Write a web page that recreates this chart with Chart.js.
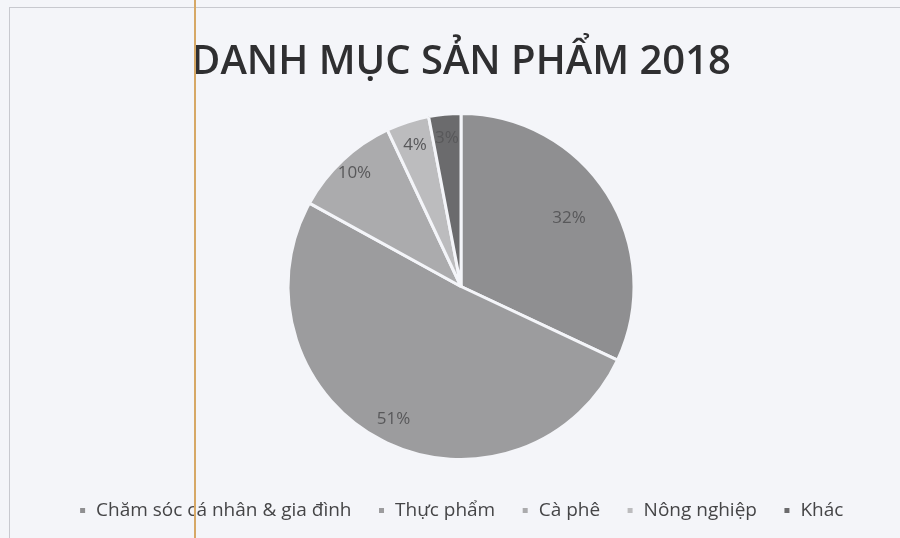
<!DOCTYPE html>
<html>
<head>
<meta charset="utf-8">
<script src="https://cdn.jsdelivr.net/npm/chart.js@4"></script>
<style>
  html, body { margin: 0; padding: 0; background: #f4f5f9; }
  #wrap { width: 900px; height: 538px; }
</style>
</head>
<body>
<div id="wrap"><canvas id="pieChart" width="900" height="538"></canvas></div>
<script>
var labels = ['Chăm sóc cá nhân & gia đình', 'Thực phẩm', 'Cà phê', 'Nông nghiệp', 'Khác'];
var shares = [32, 51, 10, 4, 3];
var sliceColors = ['#8f8f91', '#9c9c9e', '#ababad', '#bcbcbe', '#6b6b6d'];
// how far out from the centre each percent label sits (fraction of radius)
var labelDist = [0.74, 0.86, 0.9, 0.86, 0.86];

// percent labels drawn on the slices
var sliceLabels = {
  id: 'sliceLabels',
  afterDatasetsDraw: function(chart) {
    var ctx = chart.ctx;
    var meta = chart.getDatasetMeta(0);
    ctx.save();
    ctx.font = '17px "Open Sans", sans-serif';
    ctx.fillStyle = '#58585a';
    ctx.textAlign = 'center';
    ctx.textBaseline = 'middle';
    meta.data.forEach(function(arc, i) {
      var p = arc.getProps(['x', 'y', 'startAngle', 'endAngle', 'outerRadius'], true);
      var mid = (p.startAngle + p.endAngle) / 2;
      var r = p.outerRadius * labelDist[i];
      ctx.fillText(shares[i] + '%', p.x + Math.cos(mid) * r, p.y + Math.sin(mid) * r);
    });
    ctx.restore();
  }
};

// scan frame and the stray margin line
var pageMarks = {
  id: 'pageMarks',
  afterDraw: function(chart) {
    var ctx = chart.ctx;
    ctx.save();
    ctx.strokeStyle = '#c8c9cf';
    ctx.lineWidth = 1;
    ctx.strokeRect(9.5, 7.5, 900, 540);
    ctx.strokeStyle = '#d6a866';
    ctx.lineWidth = 2;
    ctx.beginPath();
    ctx.moveTo(195, 0);
    ctx.lineTo(195, 538);
    ctx.stroke();
    ctx.restore();
  }
};

var ctx = document.getElementById('pieChart').getContext('2d');
var plot = new Chart(ctx, {
  type: 'pie',
  data: {
    labels: labels,
    datasets: [{
      data: shares,
      backgroundColor: sliceColors,
      borderColor: '#f4f5f9',
      borderWidth: 3,
      radius: 173
    }]
  },
  options: {
    responsive: false,
    animation: false,
    layout: { padding: { left: 22, right: 0, top: 0, bottom: 8 } },
    plugins: {
      title: {
        display: true,
        text: 'DANH MỤC SẢN PHẨM 2018',
        color: '#2f2f31',
        font: { family: '"Open Sans", sans-serif', size: 40, weight: '600', lineHeight: 1.2 },
        padding: { top: 39, bottom: 11 }
      },
      legend: {
        position: 'bottom',
        labels: {
          color: '#454547',
          font: { family: '"Open Sans", sans-serif', size: 19 },
          boxWidth: 8,
          boxHeight: 8,
          padding: 26
        }
      },
      tooltip: { enabled: false }
    }
  },
  plugins: [sliceLabels, pageMarks]
});
</script>
</body>
</html>
